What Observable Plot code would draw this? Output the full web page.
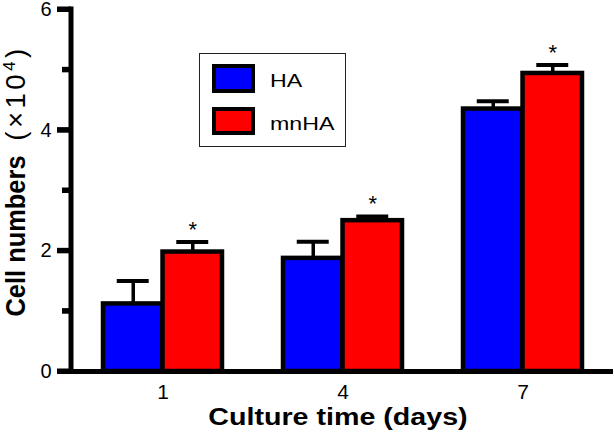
<!DOCTYPE html>
<html><head><meta charset="utf-8">
<script src="https://cdn.jsdelivr.net/npm/d3@7"></script>
<script src="https://cdn.jsdelivr.net/npm/@observablehq/plot@0.6"></script>
<style>
html,body{margin:0;padding:0;background:#fff;}
#chart{position:relative;width:614px;height:440px;font-family:"Liberation Sans",Arial,sans-serif;color:#000;}
#chart svg{position:absolute;left:0;top:0;}
.ov{position:absolute;white-space:nowrap;}
.legend{position:absolute;left:199px;top:53px;width:147px;height:94px;box-sizing:border-box;border:1.5px solid #222;background:#fff;}
.sw{position:absolute;left:12px;width:43px;box-sizing:border-box;border:4.5px solid #000;}
.lt{position:absolute;left:70px;font-size:19px;line-height:19px;transform:scaleX(1.22);transform-origin:0 50%;}
#axisOverlay{z-index:10;pointer-events:none;}
</style></head><body><div id="chart"></div>
<script>
// ---- data ----
const days = ["1", "4", "7"];
const series = ["HA", "mnHA"];
const haMean = [1.12, 1.875, 4.35];
const haErr = [0.38, 0.275, 0.13];
const mnhaMean = [1.98, 2.5, 4.94];
const mnhaErr = [0.165, 0.07, 0.14];
const mnhaSignificant = [true, true, true];
const colors = ["#0000ff", "#ff0000"];
const yTicksMajor = [0, 2, 4, 6];
const yTicksMinor = [1, 3, 5];
const xTitle = "Culture time (days)";
const yTitleMain = "Cell numbers";

const haRows = days.map((d, i) => ({day: d, series: series[0], mean: haMean[i], err: haErr[i], sig: false}));
const mnRows = days.map((d, i) => ({day: d, series: series[1], mean: mnhaMean[i], err: mnhaErr[i], sig: mnhaSignificant[i]}));

// ---- layout ----
const W = 614, H = 440, mL = 71, mR = 1, mT = 9, mB = 69;
const xOpts = {type: "band", domain: days, range: [mL, W - mR], paddingInner: 0.33, paddingOuter: 0.165, label: null};
let bw;
try { bw = Plot.scale({x: xOpts}).bandwidth; } catch (e) { bw = undefined; }
if (!bw) bw = d3.scaleBand(days, [mL, W - mR]).paddingInner(0.33).paddingOuter(0.165).bandwidth();
const half = bw / 2, edge = 1, capW = 32;
const off = (half - edge) / 2;
const cHA = (half + edge) / 2, cMN = bw - (half + edge) / 2;
const SW = 4.5;

const errTop = d => d.mean + d.err;

const plot = Plot.plot({
  width: W, height: H,
  marginLeft: mL, marginRight: mR, marginTop: mT, marginBottom: mB,
  style: {fontFamily: "Liberation Sans, Arial, sans-serif", fontSize: "19px", background: "#fff", overflow: "visible"},
  x: xOpts,
  y: {domain: [0, 6], label: null},
  marks: [
    Plot.ruleX(haRows, {x: "day", y1: "mean", y2: errTop, dx: -off, stroke: "black", strokeWidth: 3.5}),
    Plot.tickY(haRows, {x: "day", y: errTop, insetLeft: cHA - capW / 2, insetRight: bw - cHA - capW / 2, stroke: "black", strokeWidth: 4}),
    Plot.ruleX(mnRows, {x: "day", y1: "mean", y2: errTop, dx: off, stroke: "black", strokeWidth: 3.5}),
    Plot.tickY(mnRows, {x: "day", y: errTop, insetLeft: cMN - capW / 2, insetRight: bw - cMN - capW / 2, stroke: "black", strokeWidth: 4}),
    Plot.barY(haRows, {x: "day", y: "mean", fill: colors[0], stroke: "black", strokeWidth: SW, insetLeft: edge, insetRight: half}),
    Plot.barY(mnRows, {x: "day", y: "mean", fill: colors[1], stroke: "black", strokeWidth: SW, insetLeft: half, insetRight: edge}),
    Plot.text(mnRows.filter(d => d.sig), {x: "day", y: errTop, text: () => "*", dx: off, dy: -12, fontSize: 22, fill: "black"}),
    Plot.ruleY([0], {stroke: "black", strokeWidth: 5}),
    Plot.axisY({ticks: yTicksMajor, tickFormat: d3.format("d"), tickSize: 14, tickPadding: 6, stroke: "black", strokeWidth: 5, fontSize: 20, label: null}),
    Plot.axisY({ticks: yTicksMinor, tickSize: 9, tickFormat: () => "", stroke: "black", strokeWidth: 5, label: null}),
    Plot.axisX({tickSize: 0, tickPadding: 13, fontSize: 21, label: null})
  ]
});
const chart = document.getElementById("chart");
chart.appendChild(plot);

const yS = plot.scale("y");
const y0 = yS.apply(0), y6 = yS.apply(6);

// ---- HTML overlays: titles and legend ----
const host = d3.select(chart);
host.append("div").attr("class", "ov")
  .style("left", "187.5px").style("top", "405.5px").style("width", "300px").style("text-align", "center")
  .style("font-weight", "bold").style("font-size", "23px").style("line-height", "23px")
  .style("transform", "scaleX(1.245)").style("transform-origin", "50% 50%")
  .text(xTitle);
host.append("div").attr("class", "ov")
  .style("left", "-134px").style("top", "223.5px").style("width", "300px").style("height", "24px").style("text-align", "center")
  .style("font-weight", "bold").style("font-size", "24px").style("line-height", "24px")
  .style("transform", "scale(1.15,1) rotate(-90deg) scale(1.06,1)").style("transform-origin", "50% 50%")
  .text(yTitleMain);
const yu = host.append("div").attr("class", "ov")
  .style("left", "-134px").style("top", "80.5px").style("width", "300px").style("height", "24px").style("text-align", "center")
  .style("font-size", "24px").style("line-height", "24px").style("letter-spacing", "3px")
  .style("transform", "scale(1.15,1) rotate(-90deg) scale(1.15,1)").style("transform-origin", "50% 50%");
yu.append("span").text("(\u00d710");
yu.append("span").style("font-size", "15px").style("position", "relative").style("top", "-9px").text("4");
yu.append("span").text(")");

const lg = host.append("div").attr("class", "legend");
const items = [
  {name: series[0], color: colors[0], sy: 10, sh: 29, ty: 16.6},
  {name: series[1], color: colors[1], sy: 53, sh: 28, ty: 59.9}
];
items.forEach(it => {
  lg.append("div").attr("class", "sw").style("top", it.sy + "px").style("height", it.sh + "px").style("background", it.color);
  lg.append("div").attr("class", "lt").style("top", it.ty + "px").text(it.name);
});

// ---- y axis line and ticks on a top layer, placed with Plot's own y scale ----
const ov = host.append("svg").attr("id", "axisOverlay").attr("width", W).attr("height", H)
  .attr("viewBox", `0 0 ${W} ${H}`);
ov.append("line").attr("x1", mL).attr("x2", mL).attr("y1", y6 - 2.5).attr("y2", y0 + 2.5)
  .attr("stroke", "black").attr("stroke-width", 5);
ov.selectAll("line.maj").data(yTicksMajor).join("line").attr("class", "maj")
  .attr("x1", mL - 14).attr("x2", mL).attr("y1", d => yS.apply(d)).attr("y2", d => yS.apply(d))
  .attr("stroke", "black").attr("stroke-width", 5);
ov.selectAll("line.min").data(yTicksMinor).join("line").attr("class", "min")
  .attr("x1", mL - 9).attr("x2", mL).attr("y1", d => yS.apply(d)).attr("y2", d => yS.apply(d))
  .attr("stroke", "black").attr("stroke-width", 5);
</script></body></html>
